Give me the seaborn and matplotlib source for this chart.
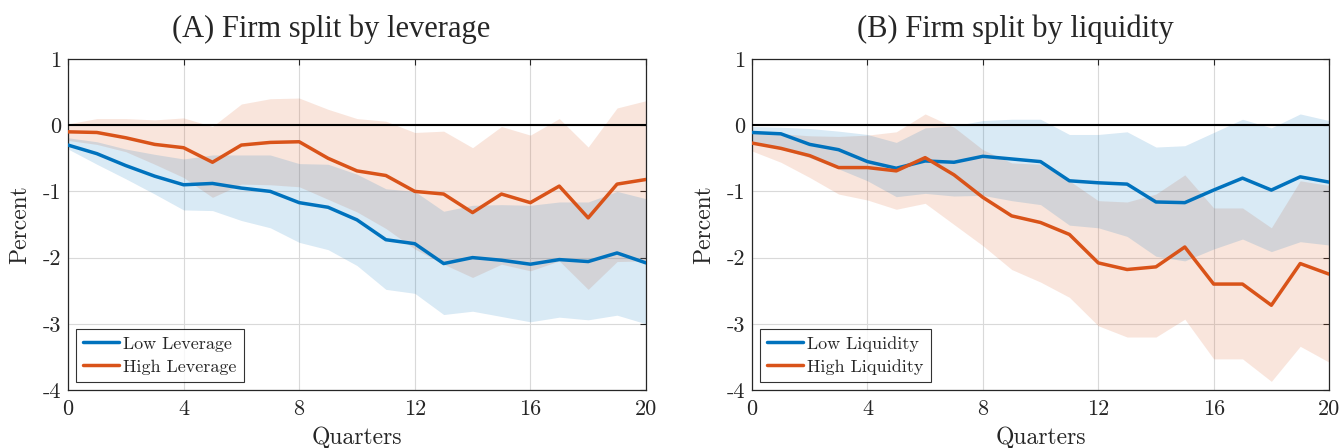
import numpy as np
import pandas as pd
import matplotlib
matplotlib.use("Agg")
import matplotlib.pyplot as plt
import seaborn as sns

quarters = list(range(21))

# Panel A: leverage
low_lev = [-0.30, -0.43, -0.61, -0.77, -0.90, -0.88, -0.95, -1.00, -1.17, -1.24, -1.43,
           -1.73, -1.79, -2.09, -2.00, -2.04, -2.10, -2.03, -2.06, -1.93, -2.08]
low_lev_hi = [-0.19, -0.25, -0.36, -0.44, -0.51, -0.45, -0.45, -0.45, -0.58, -0.59, -0.74,
              -0.96, -1.00, -1.30, -1.21, -1.20, -1.21, -1.16, -1.16, -1.00, -1.11]
low_lev_lo = [-0.36, -0.59, -0.81, -1.04, -1.28, -1.29, -1.44, -1.55, -1.77, -1.88, -2.12,
              -2.48, -2.54, -2.86, -2.81, -2.89, -2.97, -2.90, -2.94, -2.87, -3.00]
high_lev = [-0.10, -0.11, -0.19, -0.29, -0.34, -0.56, -0.30, -0.26, -0.25, -0.50, -0.69,
            -0.76, -1.00, -1.04, -1.32, -1.04, -1.17, -0.92, -1.40, -0.89, -0.82]
high_lev_hi = [0.02, 0.10, 0.10, 0.08, 0.11, -0.02, 0.32, 0.40, 0.41, 0.24, 0.10,
               0.06, -0.11, -0.09, -0.34, -0.02, -0.15, 0.10, -0.33, 0.26, 0.37]
high_lev_lo = [-0.23, -0.29, -0.40, -0.59, -0.79, -1.09, -0.89, -0.90, -0.93, -1.12, -1.31,
               -1.56, -1.87, -2.10, -2.30, -2.10, -2.20, -2.05, -2.48, -2.06, -2.05]

# Panel B: liquidity
low_liq = [-0.11, -0.13, -0.29, -0.37, -0.55, -0.65, -0.54, -0.56, -0.47, -0.51, -0.55,
           -0.84, -0.87, -0.89, -1.16, -1.17, -0.98, -0.80, -0.98, -0.78, -0.86]
low_liq_hi = [-0.02, -0.03, -0.05, -0.09, -0.14, -0.26, -0.04, -0.01, 0.07, 0.09, 0.09,
              -0.14, -0.14, -0.10, -0.33, -0.31, -0.11, 0.09, -0.04, 0.17, 0.07]
low_liq_lo = [-0.28, -0.36, -0.49, -0.66, -0.84, -1.08, -1.03, -1.07, -1.06, -1.14, -1.20,
              -1.51, -1.55, -1.68, -1.98, -2.05, -1.87, -1.72, -1.91, -1.76, -1.81]
high_liq = [-0.27, -0.35, -0.46, -0.64, -0.64, -0.69, -0.49, -0.75, -1.09, -1.37, -1.47,
            -1.65, -2.08, -2.18, -2.14, -1.84, -2.40, -2.40, -2.72, -2.09, -2.25]
high_liq_hi = [-0.08, -0.13, -0.16, -0.17, -0.15, -0.10, 0.17, -0.03, -0.37, -0.57, -0.59,
               -0.84, -1.14, -1.16, -1.04, -0.75, -1.25, -1.25, -1.55, -0.84, -0.91]
high_liq_lo = [-0.39, -0.56, -0.79, -1.04, -1.13, -1.27, -1.18, -1.50, -1.82, -2.18, -2.37,
               -2.60, -3.03, -3.20, -3.20, -2.93, -3.53, -3.53, -3.87, -3.34, -3.58]

titles = ["(A) Firm split by leverage", "(B) Firm split by liquidity"]
labels_a = ["Low Leverage", "High Leverage"]
labels_b = ["Low Liquidity", "High Liquidity"]
xticks = [0, 4, 8, 12, 16, 20]
yticks = [1, 0, -1, -2, -3, -4]

BLUE = "#0072BD"
ORANGE = "#D95319"

sns.set_theme(style="white")
plt.rcParams["font.family"] = ["cmr10", "DejaVu Serif"]
plt.rcParams["axes.unicode_minus"] = False
plt.rcParams["mathtext.fontset"] = "cm"
plt.rcParams["axes.formatter.use_mathtext"] = True

fig = plt.figure(figsize=(13.41, 4.48), dpi=100)
ax1 = fig.add_axes([0.0507, 0.1295, 0.4310, 0.7388])
ax2 = fig.add_axes([0.5608, 0.1295, 0.4303, 0.7388])

panels = [
    (ax1, titles[0], labels_a, (low_lev, low_lev_lo, low_lev_hi), (high_lev, high_lev_lo, high_lev_hi)),
    (ax2, titles[1], labels_b, (low_liq, low_liq_lo, low_liq_hi), (high_liq, high_liq_lo, high_liq_hi)),
]

for ax, title, labs, low, high in panels:
    ax.set_facecolor("white")
    ax.grid(True, color="#d9d9d9", linewidth=0.8)
    ax.set_axisbelow(True)
    ax.fill_between(quarters, high[1], high[2], color=ORANGE, alpha=0.15, linewidth=0)
    ax.fill_between(quarters, low[1], low[2], color=BLUE, alpha=0.15, linewidth=0)
    ax.axhline(0, color="black", linewidth=1.5, zorder=3)
    df = pd.DataFrame({
        "Quarters": quarters * 2,
        "value": list(low[0]) + list(high[0]),
        "group": [labs[0]] * 21 + [labs[1]] * 21,
    })
    sns.lineplot(data=df, x="Quarters", y="value", hue="group",
                 palette=[BLUE, ORANGE], linewidth=2.5, ax=ax, zorder=4)
    ax.set_xlim(0, 20)
    ax.set_ylim(-4, 1)
    ax.set_xticks(xticks)
    ax.set_xticklabels([str(t) for t in xticks])
    ax.set_yticks(yticks)
    ax.set_yticklabels([str(t) for t in yticks])
    ax.tick_params(axis="both", direction="in", length=4, width=0.8, top=True, right=True,
                   labelsize=16, colors="#262626")
    ax.tick_params(axis="x", pad=7)
    ax.tick_params(axis="y", pad=5)
    for s in ax.spines.values():
        s.set_color("#262626")
        s.set_linewidth(0.9)
    ax.set_xlabel("Quarters", fontsize=17, labelpad=5)
    ax.set_ylabel("Percent", fontsize=17, labelpad=8)
    ax.set_title(title, fontsize=22, family=["Liberation Serif", "DejaVu Serif"],
                 pad=16, x=0.456)
    leg = ax.legend(loc="lower left", fontsize=13, frameon=True, fancybox=False,
                    edgecolor="black", handlelength=2.0, handletextpad=0.2,
                    borderpad=0.4, labelspacing=0.4, borderaxespad=0.45)
    leg.get_frame().set_linewidth(0.8)
    leg.set_title(None)

fig.savefig("out.png", dpi=100, facecolor="white")
